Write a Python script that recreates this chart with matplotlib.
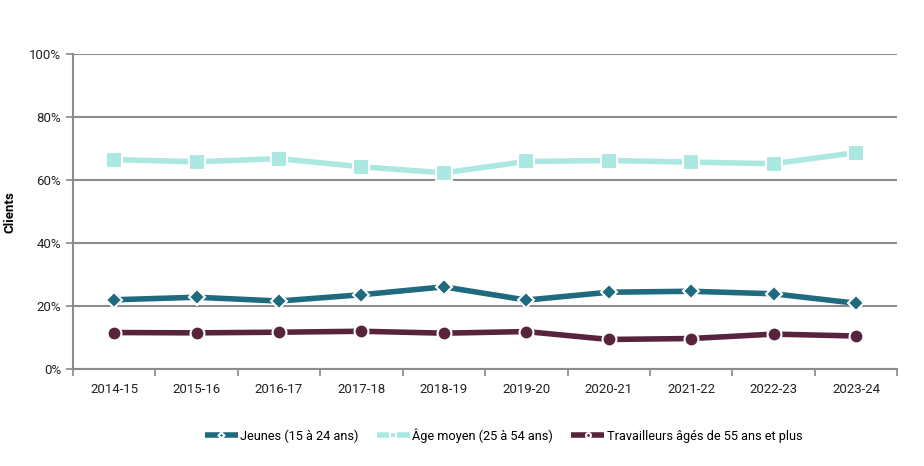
import matplotlib
matplotlib.use("Agg")
import matplotlib.pyplot as plt
from matplotlib.ticker import PercentFormatter, MultipleLocator

categories = ["2014-15", "2015-16", "2016-17", "2017-18", "2018-19",
              "2019-20", "2020-21", "2021-22", "2022-23", "2023-24"]
jeunes = [22.0, 22.8, 21.6, 23.6, 26.1, 21.9, 24.4, 24.7, 23.9, 20.9]
age_moyen = [66.5, 65.8, 66.8, 64.2, 62.3, 65.9, 66.2, 65.7, 65.2, 68.7]
travailleurs = [11.6, 11.5, 11.7, 12.0, 11.4, 11.9, 9.4, 9.7, 11.1, 10.5]

labels = ["Jeunes (15 à 24 ans)", "Âge moyen (25 à 54 ans)",
          "Travailleurs âgés de 55 ans et plus"]
colors = ["#1F6A7F", "#ABE8E2", "#58243D"]
markers = ["D", "s", "o"]
msizes = [8.5, 11, 10]

plt.rcParams['font.family'] = ['Roboto', 'DejaVu Sans']

fig = plt.figure(figsize=(9.24, 4.66), dpi=100)
ax = fig.add_axes([0.079, 0.208, 0.892, 0.676])

x = list(range(len(categories)))
for vals, c, m, ms, lab in zip([jeunes, age_moyen, travailleurs], colors, markers, msizes, labels):
    ax.plot(x, vals, color=c, lw=4, marker=m, markersize=ms,
            markeredgecolor="white", markeredgewidth=1.5, label=lab,
            solid_capstyle="butt", zorder=3)

ax.set_xlim(-0.5, len(categories) - 0.5)
ax.set_ylim(0, 100)
ax.yaxis.set_major_locator(MultipleLocator(20))
ax.yaxis.set_major_formatter(PercentFormatter(decimals=0))
ax.set_xticks(x)
ax.set_xticklabels(categories)
ax.set_xticks([i + 0.5 for i in range(-1, len(categories))], minor=True)
ax.tick_params(axis='x', which='major', length=0, pad=10, labelsize=9.5, colors="#222222")
ax.tick_params(axis='x', which='minor', length=5, width=1.2, color="#888888", direction='out')
ax.tick_params(axis='y', length=5, width=1.2, color="#888888", labelsize=9.5, labelcolor="#222222")

ax.grid(axis='y', color="#8c8c8c", lw=1.5, zorder=0)
ax.set_axisbelow(True)
for s in ["top", "right"]:
    ax.spines[s].set_visible(False)
for s in ["left", "bottom"]:
    ax.spines[s].set_color("#8c8c8c")
    ax.spines[s].set_linewidth(1.5)

ax.set_ylabel("Clients", fontsize=9.5, fontweight="bold")
ax.yaxis.set_label_coords(-0.068, 0.5)

leg = fig.legend(loc="center", bbox_to_anchor=(0.545, 0.065), ncol=3, frameon=False,
                 fontsize=9.2, handlelength=2.6, columnspacing=1.4, handletextpad=0.2,
                 markerscale=0.35)
for h in leg.get_lines():
    h.set_linewidth(4)

fig.savefig("out.png", dpi=100)
